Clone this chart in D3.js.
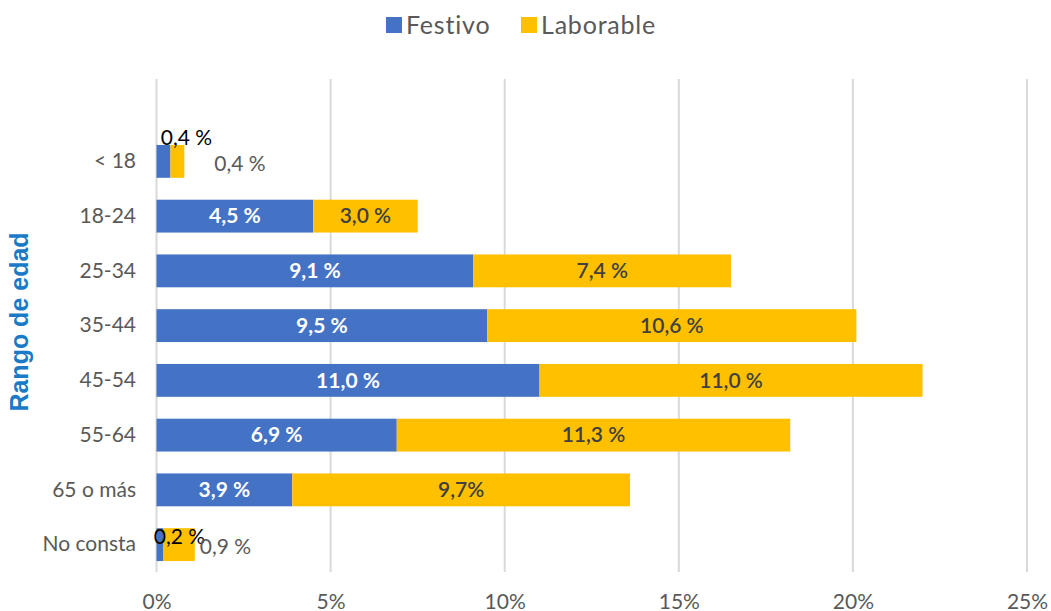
<!DOCTYPE html>
<html>
<head>
<meta charset="utf-8">
<script src="https://cdn.jsdelivr.net/npm/d3@7"></script>
<style>
  body { margin: 0; background: #fff; }
  svg { font-family: Lato, "Open Sans", sans-serif; }
</style>
</head>
<body>
<svg class="chart" width="1051" height="611"></svg>
<script>
// Age bands and the share of each day type.
var categories = ["< 18", "18-24", "25-34", "35-44", "45-54", "55-64", "65 o más", "No consta"];
var festivo = [0.4, 4.5, 9.1, 9.5, 11.0, 6.9, 3.9, 0.2];
var laborable = [0.4, 3.0, 7.4, 10.6, 11.0, 11.3, 9.7, 0.9];
var festivoLabels = ["0,4 %", "4,5 %", "9,1 %", "9,5 %", "11,0 %", "6,9 %", "3,9 %", "0,2 %"];
var laborableLabels = ["0,4 %", "3,0 %", "7,4 %", "10,6 %", "11,0 %", "11,3 %", "9,7%", "0,9 %"];
var xTicks = [0, 5, 10, 15, 20, 25];
var seriesNames = ["Festivo", "Laborable"];
var colors = ["#4472C4", "#FFC000"];

var svg = d3.select(".chart");

var x = d3.scaleLinear().domain([0, 25]).range([156.5, 1027]);
var y = d3.scaleBand().domain(categories).range([134, 572])
    .paddingInner(0.4)
    .paddingOuter(0.2);

// Gridlines
svg.append("g")
    .selectAll("line")
    .data(xTicks)
    .enter()
    .append("line")
    .attr("x1", function (d) { return x(d); })
    .attr("x2", function (d) { return x(d); })
    .attr("y1", 79)
    .attr("y2", 572)
    .attr("stroke", "#d9d9d9")
    .attr("stroke-width", 2);

// X axis labels
var xAxis = d3.axisBottom(x)
    .tickValues(xTicks)
    .tickSize(0)
    .tickPadding(0)
    .tickFormat(function (d) { return d + "%"; });

var gx = svg.append("g")
    .attr("transform", "translate(0,594)")
    .call(xAxis);
gx.select(".domain").remove();
gx.selectAll("text")
    .attr("dy", "0.32em")
    .attr("y", 8)
    .style("font-size", "21px")
    .style("font-family", "Lato, sans-serif")
    .attr("fill", "#595959");

// Y axis labels
var yAxis = d3.axisLeft(y).tickSize(0).tickPadding(0);
var gy = svg.append("g")
    .attr("transform", "translate(136,0)")
    .call(yAxis);
gy.select(".domain").remove();
gy.selectAll("text")
    .style("font-size", "21px")
    .style("font-family", "Lato, sans-serif")
    .attr("fill", "#595959");

// Y axis title
svg.append("text")
    .attr("transform", "translate(28,322) rotate(-90)")
    .attr("text-anchor", "middle")
    .style("font-family", "'Liberation Sans', Arial, sans-serif")
    .style("font-size", "25px")
    .style("font-weight", "bold")
    .attr("fill", "#1a7ac6")
    .text("Rango de edad");

// Bars
var rows = categories.map(function (c, i) {
    return { cat: c, f: festivo[i], l: laborable[i], fl: festivoLabels[i], ll: laborableLabels[i] };
});

var row = svg.append("g")
    .selectAll(".row")
    .data(rows)
    .enter()
    .append("g")
    .attr("class", "row");

row.append("rect")
    .attr("x", x(0))
    .attr("y", function (d) { return y(d.cat); })
    .attr("width", function (d) { return x(d.f) - x(0); })
    .attr("height", y.bandwidth())
    .attr("fill", colors[0]);

row.append("rect")
    .attr("x", function (d) { return x(d.f); })
    .attr("y", function (d) { return y(d.cat); })
    .attr("width", function (d) { return x(d.f + d.l) - x(d.f); })
    .attr("height", y.bandwidth())
    .attr("fill", colors[1]);

// Festivo labels: inside when the bar is wide, else black above it
row.append("text")
    .attr("text-anchor", "middle")
    .attr("x", function (d) {
        if (d.f < 1) return x(d.f) + 16;
        return (x(0) + x(d.f)) / 2;
    })
    .attr("y", function (d) {
        var c = y(d.cat) + y.bandwidth() / 2;
        if (d.f < 1) return d.cat == "< 18" ? c - 24 : c - 8;
        return c;
    })
    .attr("dy", "0.35em")
    .style("font-size", "21px")
    .style("font-weight", function (d) { return d.f < 1 ? "normal" : "bold"; })
    .attr("fill", function (d) { return d.f < 1 ? "#000" : "#fff"; })
    .text(function (d) { return d.fl; });

// Laborable labels
row.append("text")
    .attr("text-anchor", function (d) { return d.l < 1 ? "start" : "middle"; })
    .attr("x", function (d) {
        if (d.l < 1) return x(d.f + d.l) + (d.cat == "< 18" ? 30 : 5);
        return (x(d.f) + x(d.f + d.l)) / 2;
    })
    .attr("y", function (d) { return y(d.cat) + y.bandwidth() / 2 + (d.l < 1 ? 2 : 0); })
    .attr("dy", "0.35em")
    .style("font-size", "21px")
    .style("font-weight", function (d) { return d.l < 1 ? "normal" : "600"; })
    .attr("fill", function (d) { return d.l < 1 ? "#595959" : "#404040"; })
    .text(function (d) { return d.ll; });

// Legend
var legendX = [386, 521];
var legend = svg.append("g")
    .selectAll(".legend")
    .data(seriesNames)
    .enter()
    .append("g")
    .attr("transform", function (d, i) { return "translate(" + legendX[i] + ",17)"; });

legend.append("rect")
    .attr("width", 16)
    .attr("height", 16)
    .attr("fill", function (d, i) { return colors[i]; });

legend.append("text")
    .attr("x", 20)
    .attr("y", 8)
    .attr("dy", "0.36em")
    .style("font-size", "25px")
    .style("letter-spacing", "0.8px")
    .attr("fill", "#595959")
    .text(function (d) { return d; });
</script>
</body>
</html>
